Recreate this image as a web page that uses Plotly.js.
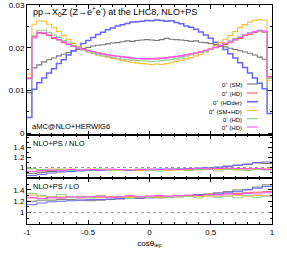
<!DOCTYPE html>
<html><head><meta charset="utf-8">
<script src="https://cdn.plot.ly/plotly-3.0.1.min.js"></script>
<style>html,body{margin:0;padding:0;background:#fff}#c{width:287px;height:258px}</style>
</head><body><div id="c"></div>
<script>
// main histogram: 50 bins of cos(theta_lep) from -1 to 1
const binLow = -1, binWidth = 0.04, nBins = 50;
const seriesNames = ['0<sup>+</sup> (SM)', '0<sup>+</sup> (HD)', '0<sup>+</sup> (HDder)', '0<sup>+</sup> (SM+HD)', '0<sup>-</sup> (HD)', '0<sup>±</sup> (HD)'];
const seriesColors = ['#777777', '#ff5a5a', '#6666ff', '#ffbb33', '#8fcc8f', '#ff55ff'];

const mainSM = [0.0095,0.0153,0.0160,0.0167,0.0172,0.0176,0.0181,0.0185,0.0189,0.0192,0.0196,0.0198,0.0201,0.0204,0.0206,0.0207,0.0209,0.0211,0.0212,0.0214,0.0216,0.0215,0.0217,0.0218,0.0219,0.0218,0.0217,0.0219,0.0222,0.0220,0.0219,0.0218,0.0217,0.0215,0.0216,0.0213,0.0212,0.0210,0.0208,0.0204,0.0202,0.0199,0.0196,0.0193,0.0190,0.0187,0.0183,0.0178,0.0173,0.0100];
const mainHD = [0.0130,0.0226,0.0236,0.0233,0.0229,0.0222,0.0218,0.0212,0.0208,0.0204,0.0200,0.0197,0.0194,0.0190,0.0188,0.0186,0.0183,0.0182,0.0180,0.0179,0.0177,0.0176,0.0175,0.0175,0.0174,0.0175,0.0174,0.0176,0.0176,0.0178,0.0179,0.0181,0.0183,0.0185,0.0187,0.0189,0.0193,0.0196,0.0200,0.0203,0.0208,0.0213,0.0218,0.0222,0.0228,0.0232,0.0236,0.0239,0.0236,0.0131];
const mainHDder = [0.0037,0.0103,0.0118,0.0129,0.0141,0.0151,0.0163,0.0172,0.0183,0.0193,0.0201,0.0210,0.0217,0.0224,0.0231,0.0236,0.0242,0.0246,0.0251,0.0254,0.0257,0.0260,0.0261,0.0262,0.0264,0.0263,0.0265,0.0264,0.0262,0.0263,0.0259,0.0256,0.0251,0.0248,0.0243,0.0237,0.0230,0.0222,0.0213,0.0205,0.0196,0.0186,0.0176,0.0165,0.0154,0.0141,0.0129,0.0117,0.0104,0.0046];
const mainSMHD = [0.0138,0.0255,0.0263,0.0262,0.0255,0.0248,0.0238,0.0229,0.0219,0.0210,0.0202,0.0195,0.0190,0.0186,0.0183,0.0180,0.0178,0.0175,0.0173,0.0170,0.0168,0.0166,0.0164,0.0163,0.0162,0.0161,0.0162,0.0161,0.0163,0.0165,0.0168,0.0171,0.0174,0.0177,0.0181,0.0185,0.0190,0.0198,0.0205,0.0212,0.0220,0.0229,0.0238,0.0247,0.0254,0.0260,0.0264,0.0266,0.0265,0.0124];
const mainMinusHD = [0.0127,0.0228,0.0241,0.0241,0.0236,0.0230,0.0224,0.0217,0.0211,0.0205,0.0200,0.0195,0.0191,0.0187,0.0184,0.0181,0.0179,0.0177,0.0175,0.0173,0.0172,0.0171,0.0170,0.0169,0.0169,0.0168,0.0169,0.0170,0.0171,0.0172,0.0174,0.0177,0.0180,0.0183,0.0186,0.0189,0.0192,0.0196,0.0201,0.0206,0.0211,0.0216,0.0222,0.0227,0.0231,0.0235,0.0238,0.0239,0.0237,0.0128];
const mainMixHD = [0.0128,0.0223,0.0234,0.0235,0.0230,0.0224,0.0219,0.0214,0.0208,0.0203,0.0199,0.0196,0.0193,0.0191,0.0187,0.0185,0.0184,0.0181,0.0180,0.0178,0.0178,0.0176,0.0175,0.0174,0.0175,0.0174,0.0176,0.0175,0.0177,0.0178,0.0180,0.0181,0.0184,0.0186,0.0188,0.0191,0.0194,0.0197,0.0201,0.0205,0.0210,0.0214,0.0219,0.0224,0.0229,0.0234,0.0238,0.0241,0.0239,0.0133];

// ratio panels: 25 bins
const ratioBinWidth = 0.08, nRatioBins = 25;
const r1SM = [0.88,0.90,0.92,0.93,0.94,0.95,0.94,0.95,0.95,0.96,0.94,0.95,0.95,0.96,0.95,0.96,0.97,0.98,0.99,1.00,1.02,1.04,1.06,1.09,1.08];
const r1HD = [0.92,0.93,0.94,0.95,0.95,0.96,0.95,0.96,0.95,0.96,0.96,0.95,0.96,0.96,0.95,0.97,0.96,0.97,0.98,0.97,0.98,0.97,0.98,0.97,0.97];
const r1HDder = [0.84,0.86,0.89,0.91,0.92,0.93,0.94,0.94,0.95,0.95,0.96,0.96,0.96,0.97,0.97,0.97,0.98,0.99,1.00,1.01,1.03,1.05,1.07,1.10,1.11];
const r1SMHD = [0.97,0.96,0.97,0.96,0.97,0.96,0.97,0.96,0.96,0.95,0.96,0.95,0.96,0.95,0.94,0.95,0.96,0.95,0.96,0.96,0.97,0.96,0.97,0.96,0.97];
const r1MinusHD = [0.98,0.96,0.95,0.97,0.94,0.96,0.95,0.97,0.94,0.96,0.95,0.97,0.96,0.93,0.96,0.97,0.94,0.96,0.97,0.93,0.96,0.95,0.94,0.96,0.95];
const r1MixHD = [0.92,0.94,0.95,0.94,0.96,0.95,0.96,0.95,0.97,0.96,0.95,0.96,0.97,0.96,0.97,0.96,0.97,0.98,0.97,0.98,0.99,0.98,0.97,0.98,0.96];

const r2SM = [1.20,1.22,1.22,1.23,1.23,1.22,1.21,1.22,1.23,1.24,1.26,1.25,1.27,1.26,1.28,1.29,1.30,1.32,1.33,1.35,1.37,1.40,1.41,1.45,1.49];
const r2HD = [1.26,1.25,1.26,1.26,1.27,1.26,1.27,1.27,1.28,1.27,1.28,1.28,1.29,1.28,1.29,1.30,1.30,1.31,1.31,1.32,1.33,1.34,1.35,1.36,1.37];
const r2HDder = [1.14,1.17,1.19,1.20,1.21,1.22,1.23,1.23,1.24,1.25,1.25,1.26,1.26,1.27,1.28,1.28,1.29,1.31,1.32,1.33,1.35,1.37,1.40,1.43,1.46];
const r2SMHD = [1.31,1.29,1.28,1.28,1.27,1.28,1.27,1.28,1.27,1.28,1.27,1.28,1.28,1.27,1.28,1.28,1.29,1.28,1.29,1.28,1.29,1.30,1.29,1.30,1.30];
const r2MinusHD = [1.34,1.30,1.28,1.32,1.27,1.29,1.26,1.30,1.27,1.28,1.25,1.29,1.27,1.30,1.26,1.28,1.29,1.26,1.31,1.27,1.29,1.26,1.30,1.27,1.29];
const r2MixHD = [1.27,1.25,1.27,1.26,1.28,1.27,1.28,1.29,1.27,1.28,1.30,1.28,1.29,1.30,1.29,1.30,1.31,1.30,1.32,1.31,1.33,1.32,1.34,1.33,1.35];

const mainSets = [mainSM, mainHD, mainHDder, mainSMHD, mainMinusHD, mainMixHD];
const r1Sets = [r1SM, r1HD, r1HDder, r1SMHD, r1MinusHD, r1MixHD];
const r2Sets = [r2SM, r2HD, r2HDder, r2SMHD, r2MinusHD, r2MixHD];

function edges(n, w){ const e=[]; for(let i=0;i<=n;i++) e.push(+(binLow+i*w).toFixed(4)); return e; }
function stepY(v){ return v.concat([v[v.length-1]]); }

const traces = [];
const widths = [1.1,1.1,1.5,1.1,1.1,1.1];
mainSets.forEach((v,k)=>traces.push({x:edges(nBins,binWidth), y:stepY(v), xaxis:'x3', yaxis:'y3', mode:'lines', line:{shape:'hv', color:seriesColors[k], width:widths[k]}, showlegend:false, hoverinfo:'skip'}));
r1Sets.forEach((v,k)=>traces.push({x:edges(nRatioBins,ratioBinWidth), y:stepY(v), xaxis:'x2', yaxis:'y2', mode:'lines', line:{shape:'hv', color:seriesColors[k], width:1}, showlegend:false, hoverinfo:'skip'}));
r2Sets.forEach((v,k)=>traces.push({x:edges(nRatioBins,ratioBinWidth), y:stepY(v), xaxis:'x', yaxis:'y', mode:'lines', line:{shape:'hv', color:seriesColors[k], width:1}, showlegend:false, hoverinfo:'skip'}));

const F = 'Liberation Sans, Arial, sans-serif';
const axBase = {showline:true, linecolor:'#000', linewidth:1, mirror:'allticks', ticks:'inside', ticklen:4, tickcolor:'#000', showgrid:false, zeroline:false, tickfont:{family:F, size:8, color:'#000'}};
const xBase = Object.assign({}, axBase, {range:[-1,1], tickvals:[-1,-0.5,0,0.5,1], ticktext:['-1','-0.5','0','0.5','1'], minor:{dtick:0.1, ticks:'inside', ticklen:2, tickcolor:'#000', showgrid:false}});

const H = 219, W = 245;
const px = x => (x-27)/W, py = y => (224-y)/H;

const annotations = [
 {text:'pp→X<sub>0</sub>Z (Z→e<sup>+</sup>e<sup>-</sup>) at the LHC8, NLO+PS', x:px(31), y:py(11.5), xref:'paper', yref:'paper', xanchor:'left', yanchor:'middle', showarrow:false, font:{family:F, size:9, color:'#000'}},
 {text:'aMC@NLO+HERWIG6', x:px(30), y:py(126.7), xref:'paper', yref:'paper', xanchor:'left', yanchor:'middle', showarrow:false, font:{family:F, size:7.5, color:'#000'}},
 {text:'NLO+PS / NLO', x:px(31), y:py(143.3), xref:'paper', yref:'paper', xanchor:'left', yanchor:'middle', showarrow:false, font:{family:F, size:7.5, color:'#000'}},
 {text:'NLO+PS / LO', x:px(31), y:py(186), xref:'paper', yref:'paper', xanchor:'left', yanchor:'middle', showarrow:false, font:{family:F, size:7.5, color:'#000'}}
];
const legY = [84, 93, 101.7, 110.5, 118.7, 127];
const shapes = [
 {type:'line', xref:'x2', yref:'y2', x0:-1, x1:1, y0:1, y1:1, line:{color:'#999', width:1, dash:'dot'}},
 {type:'line', xref:'x', yref:'y', x0:-1, x1:1, y0:1, y1:1, line:{color:'#999', width:1, dash:'dot'}}
];
seriesNames.forEach((n,k)=>{
  annotations.push({text:n, x:px(243.5), y:py(legY[k]), xref:'paper', yref:'paper', xanchor:'right', yanchor:'middle', showarrow:false, font:{family:F, size:6, color:'#000'}});
  shapes.push({type:'line', xref:'paper', yref:'paper', x0:px(247), x1:px(258), y0:py(legY[k]), y1:py(legY[k]), line:{color:seriesColors[k], width:k===2?1.6:1.1}});
});

const layout = {
  width:287, height:258, margin:{l:27, r:15, t:5, b:34}, paper_bgcolor:'#fff', plot_bgcolor:'#fff', showlegend:false,
  xaxis: Object.assign({}, xBase, {anchor:'y', domain:[0,1], title:{text:'cosθ<sub>lep</sub>', font:{family:F, size:8, color:'#000'}, standoff:4}}),
  xaxis2: Object.assign({}, xBase, {anchor:'y2', domain:[0,1], showticklabels:false}),
  xaxis3: Object.assign({}, xBase, {anchor:'y3', domain:[0,1], showticklabels:false}),
  yaxis: Object.assign({}, axBase, {anchor:'x', domain:[0,0.21], range:[0.8,1.61], tickvals:[1,1.2,1.4], ticktext:['1','1.2','1.4'], minor:{dtick:0.1, ticks:'inside', ticklen:2, tickcolor:'#000', showgrid:false}}),
  yaxis2: Object.assign({}, axBase, {anchor:'x2', domain:[0.21,0.4064], range:[0.79,1.65], tickvals:[1,1.2,1.4], ticktext:['1','1.2','1.4'], minor:{dtick:0.1, ticks:'inside', ticklen:2, tickcolor:'#000', showgrid:false}}),
  yaxis3: Object.assign({}, axBase, {anchor:'x3', domain:[0.4064,1], range:[-0.0004,0.03], tickvals:[0,0.01,0.02,0.03], ticktext:['0','0.01','0.02','0.03'], minor:{dtick:0.005, ticks:'inside', ticklen:2, tickcolor:'#000', showgrid:false}}),
  annotations, shapes
};
Plotly.newPlot('c', traces, layout, {staticPlot:true, displayModeBar:false});
</script></body></html>
